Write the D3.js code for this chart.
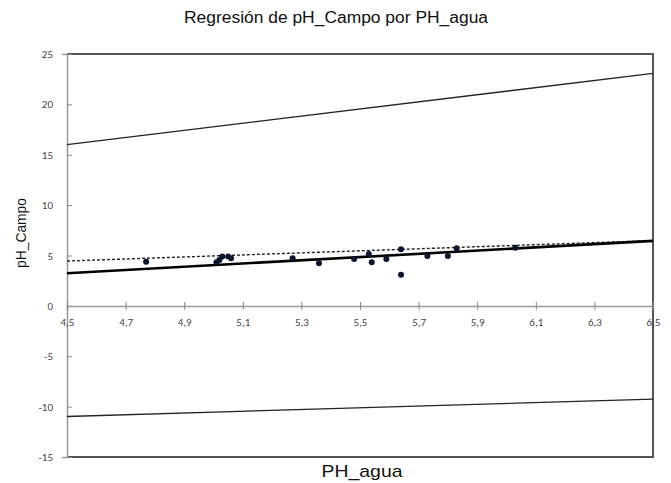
<!DOCTYPE html>
<html><head><meta charset="utf-8">
<script src="https://cdn.jsdelivr.net/npm/d3@7"></script>
<style>body{margin:0;background:#fff}svg{display:block}</style>
</head><body>
<svg id="c" width="671" height="483"></svg>
<script>
// Data
const phAgua = [4.77,5.01,5.02,5.03,5.05,5.06,5.27,5.36,5.48,5.53,5.54,5.59,5.64,5.64,5.73,5.80,5.83,6.03];
const phCampo = [4.39,4.34,4.56,4.89,4.89,4.73,4.73,4.24,4.66,5.16,4.34,4.66,5.63,3.08,4.96,4.96,5.72,5.78];
const xEnds = [4.5, 6.5];
const fitLine = [3.24, 6.45];
const dashLine = [4.45, 6.48];
const upperLine = [16.0, 23.08];
const lowerLine = [-10.98, -9.25];
const xTicks = [4.5,4.7,4.9,5.1,5.3,5.5,5.7,5.9,6.1,6.3,6.5];
const yTicks = [-15,-10,-5,0,5,10,15,20,25];

const svg = d3.select("#c");
const L=67, R=653, T=54, B=457;
const x = d3.scaleLinear().domain([4.5,6.5]).range([L,R]);
const y = d3.scaleLinear().domain([-15,25]).range([B,T]);
const fmt = d => d3.format(".1f")(d).replace(".", ",");
const font = "'Liberation Sans Narrow','Liberation Sans',Arial,sans-serif";

svg.append("text").attr("x",336).attr("y",23).attr("text-anchor","middle")
  .attr("font-family",font).attr("font-size",16).attr("fill","#111")
  .attr("textLength",304).attr("lengthAdjust","spacingAndGlyphs")
  .text("Regresión de pH_Campo por PH_agua");

// Frame (top, right, bottom)
svg.append("path").attr("d",`M${L},${T}H${R}V${B}H${L}`).attr("fill","none")
  .attr("stroke","#555").attr("stroke-width",2);

// Y axis
const yAx = svg.append("g").attr("transform",`translate(${L},0)`)
  .call(d3.axisLeft(y).tickValues(yTicks).tickSize(5).tickPadding(9).tickFormat(d=>String(d)));
yAx.select(".domain").attr("stroke","#999").attr("stroke-width",1.5);
yAx.selectAll(".tick line").attr("stroke","#888").attr("x2",5);
yAx.selectAll(".tick text").attr("font-family","Carlito,'Liberation Sans',sans-serif").attr("font-size",11).attr("fill","#444");

// X axis at y=0
const xAx = svg.append("g").attr("transform",`translate(0,${y(0)})`)
  .call(d3.axisBottom(x).tickValues(xTicks).tickSize(4).tickPadding(8).tickFormat(fmt));
xAx.select(".domain").attr("stroke","#999").attr("stroke-width",1.5);
xAx.selectAll(".tick line").attr("stroke","#888").attr("y1",-4);
xAx.selectAll(".tick text").attr("font-family","Carlito,'Liberation Sans',sans-serif").attr("font-size",11).attr("fill","#444");

const line = d3.line().x((d,i)=>x(xEnds[i])).y(d=>y(d));
svg.append("path").attr("d",line(upperLine)).attr("stroke","#222").attr("stroke-width",1.3).attr("fill","none");
svg.append("path").attr("d",line(lowerLine)).attr("stroke","#222").attr("stroke-width",1.3).attr("fill","none");
svg.append("path").attr("d",line(dashLine)).attr("stroke","#222").attr("stroke-width",1.4).attr("stroke-dasharray","3,2").attr("fill","none");
svg.append("path").attr("d",line(fitLine)).attr("stroke","#000").attr("stroke-width",2.6).attr("fill","none");

svg.append("g").selectAll("circle").data(phAgua).join("circle")
  .attr("cx",d=>x(d)).attr("cy",(d,i)=>y(phCampo[i])).attr("r",3)
  .attr("fill","#0b1530");

svg.append("text").attr("x",362).attr("y",477).attr("text-anchor","middle")
  .attr("font-family",font).attr("font-size",17).attr("fill","#111")
  .attr("textLength",81).attr("lengthAdjust","spacingAndGlyphs").text("PH_agua");
svg.append("text").attr("transform","translate(26,233) rotate(-90)").attr("text-anchor","middle")
  .attr("font-family",font).attr("font-size",15).attr("fill","#111")
  .attr("textLength",70).attr("lengthAdjust","spacingAndGlyphs").text("pH_Campo");
</script>
</body></html>
